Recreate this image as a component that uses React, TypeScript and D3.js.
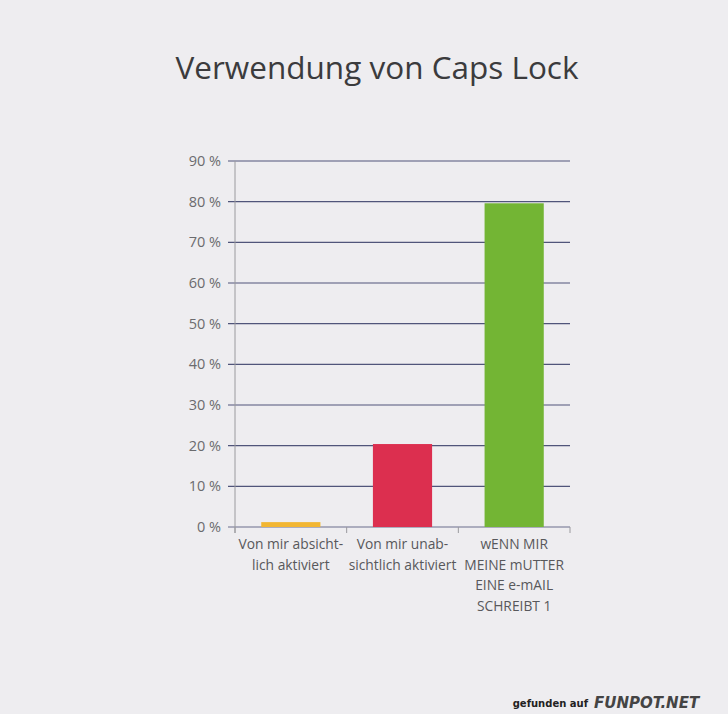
import React from "react";
import * as d3 from "d3";

const categories = [
  ["Von mir absicht-", "lich aktiviert"],
  ["Von mir unab-", "sichtlich aktiviert"],
  ["wENN MIR", "MEINE mUTTER", "EINE e-mAIL", "SCHREIBT 1"],
];
const values = [1.2, 20.4, 79.6];
const barColors = ["#f2b632", "#dc2f4f", "#73b534"];
const yTicks = [0, 10, 20, 30, 40, 50, 60, 70, 80, 90];

export default function App() {
  const W = 728, H = 714;
  const x0 = 235, x1 = 570;
  const y = d3.scaleLinear().domain([0, 90]).range([527, 161]);
  const x = d3
    .scaleBand<number>()
    .domain(d3.range(categories.length))
    .range([x0, x1])
    .paddingInner(0.47)
    .paddingOuter(0.235);
  const bandW = (x1 - x0) / categories.length;
  const font = "'Open Sans', 'Noto Sans', sans-serif";
  return (
    <svg width={W} height={H} style={{ position: "absolute", left: 0, top: 0, background: "#eeedf0" }}>
      <rect x={0} y={0} width={W} height={H} fill="#eeedf0" />
      <text x={377} y={79} textAnchor="middle" fontFamily={font} fontSize={31.5} fill="#3b3b3d">
        Verwendung von Caps Lock
      </text>
      {yTicks.map((t) => (
        <g key={t}>
          <line x1={228} x2={x1} y1={y(t)} y2={y(t)} stroke={t === 0 ? "#6a6e8c" : "#50557a"} strokeWidth={1.2} />
          <text x={221} y={y(t) + 5} textAnchor="end" fontFamily={font} fontSize={14.5} fill="#6b6b6e">
            {t} %
          </text>
        </g>
      ))}
      <line x1={x0} x2={x0} y1={y(90)} y2={y(0) + 6} stroke="#9a9a9e" strokeWidth={1} />
      {d3.range(categories.length + 1).map((i) => (
        <line key={i} x1={x0 + i * bandW} x2={x0 + i * bandW} y1={y(0)} y2={y(0) + 6} stroke="#9a9a9e" strokeWidth={1} />
      ))}
      {values.map((v, i) => (
        <rect key={i} x={x(i)} y={y(v)} width={x.bandwidth()} height={y(0) - y(v)} fill={barColors[i]} />
      ))}
      {categories.map((lines, i) => (
        <text key={i} textAnchor="middle" fontFamily={font} fontSize={13.8} fill="#58585b">
          {lines.map((l, j) => (
            <tspan key={j} x={x0 + (i + 0.5) * bandW} y={549 + j * 20.5}>
              {l}
            </tspan>
          ))}
        </text>
      ))}
      <text x={588} y={707} textAnchor="end" fontFamily="'DejaVu Sans', sans-serif" fontSize={10} fontWeight="bold" fill="#222">
        gefunden auf
      </text>
      <text x={594} y={708} fontFamily="'DejaVu Sans', sans-serif" fontSize={15} fontWeight="bold" fontStyle="italic" fill="#444">
        FUNPOT.NET
      </text>
    </svg>
  );
}
